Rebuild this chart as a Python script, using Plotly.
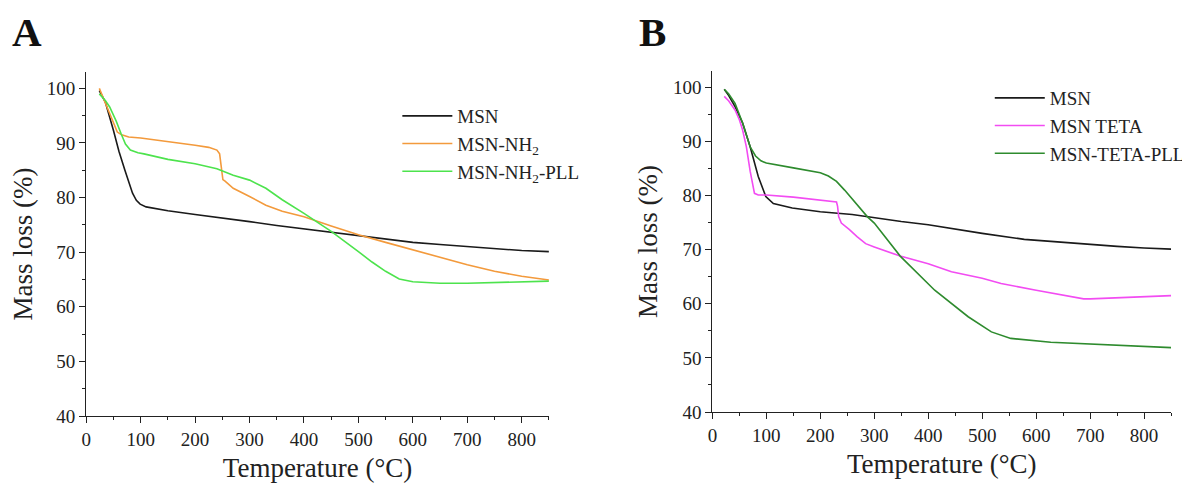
import plotly.graph_objects as go

# ---------------- Panel A data ----------------
t_msn_a = [24, 35, 50, 60, 71, 80, 85, 92, 99, 110, 130, 150, 200, 250, 300, 350, 400, 450, 500, 550, 600, 650, 700, 750, 800, 850]
m_msn_a = [99.6, 97.5, 92.3, 88.5, 85.0, 82.0, 80.8, 79.5, 78.8, 78.3, 77.9, 77.6, 76.9, 76.3, 75.6, 74.9, 74.3, 73.7, 73.1, 72.4, 71.8, 71.4, 71.0, 70.6, 70.3, 70.1]

t_nh2_a = [24, 30, 40, 50, 57, 65, 78, 100, 150, 200, 225, 240, 245, 248, 251, 255, 270, 300, 330, 360, 400, 450, 500, 550, 600, 650, 700, 750, 800, 850]
m_nh2_a = [100.0, 98.5, 96.0, 93.5, 92.0, 91.5, 91.1, 90.9, 90.3, 89.6, 89.2, 88.7, 88.0, 85.0, 83.3, 83.0, 81.7, 80.2, 78.6, 77.5, 76.5, 74.8, 73.2, 71.8, 70.4, 69.0, 67.7, 66.5, 65.6, 64.9]

t_pll_a = [24, 35, 43, 55, 64, 72, 81, 95, 106, 150, 200, 240, 270, 300, 330, 360, 400, 450, 500, 525, 550, 575, 600, 650, 700, 750, 800, 850]
m_pll_a = [99.0, 97.8, 96.6, 94.0, 91.7, 89.8, 88.7, 88.2, 88.0, 87.0, 86.2, 85.3, 84.1, 83.2, 81.7, 79.6, 77.1, 73.8, 70.1, 68.2, 66.5, 65.1, 64.6, 64.3, 64.3, 64.4, 64.5, 64.7]

# ---------------- Panel B data ----------------
t_msn_b = [22, 30, 42, 56, 70, 85, 99, 113, 148, 200, 259, 300, 350, 400, 443, 500, 578, 650, 700, 750, 800, 850]
m_msn_b = [99.6, 98.5, 96.4, 93.4, 89.0, 83.5, 79.8, 78.5, 77.7, 77.0, 76.5, 75.9, 75.2, 74.6, 73.9, 73.0, 71.9, 71.3, 71.0, 70.6, 70.3, 70.1]

t_teta_b = [22, 30, 42, 50, 56, 63, 70, 75, 78, 85, 100, 150, 200, 230, 232, 234, 239, 254, 268, 284, 300, 348, 400, 443, 500, 535, 600, 650, 688, 700, 750, 800, 850]
m_teta_b = [98.3, 97.5, 95.8, 94.0, 92.1, 89.0, 84.5, 81.5, 80.4, 80.1, 80.1, 79.7, 79.2, 78.8, 78.0, 76.1, 74.9, 73.7, 72.4, 71.1, 70.5, 68.8, 67.4, 65.9, 64.7, 63.75, 62.5, 61.6, 60.9, 60.9, 61.1, 61.3, 61.5]

t_tpll_b = [22, 30, 42, 56, 70, 80, 90, 100, 150, 200, 215, 230, 245, 260, 287, 300, 348, 412, 474, 517, 553, 627, 700, 775, 850]
m_tpll_b = [99.6, 98.8, 97.0, 93.4, 89.0, 87.3, 86.4, 86.0, 85.1, 84.2, 83.6, 82.6, 81.0, 79.2, 76.1, 74.9, 68.8, 62.5, 57.6, 54.8, 53.6, 52.9, 52.55, 52.2, 51.9]

names_a = ["MSN", "MSN-NH<sub>2</sub>", "MSN-NH<sub>2</sub>-PLL"]
names_b = ["MSN", "MSN TETA", "MSN-TETA-PLL"]
colors_a = ["#1a1a1a", "#f39a3c", "#4de34d"]
colors_b = ["#1a1a1a", "#f24cf2", "#2e8b2e"]

x_ticks = [0, 100, 200, 300, 400, 500, 600, 700, 800]
y_ticks = [40, 50, 60, 70, 80, 90, 100]

FONT = "Liberation Serif, Times New Roman, serif"
OFF = 8  # page body margin
W, H = 1190 - OFF, 484 - OFF

fig = go.Figure()
for t, m, n, c in zip([t_msn_a, t_nh2_a, t_pll_a], [m_msn_a, m_nh2_a, m_pll_a], names_a, colors_a):
    fig.add_trace(go.Scatter(x=t, y=m, name=n, mode="lines", line=dict(color=c, width=1.6),
                             xaxis="x", yaxis="y", legend="legend"))
for t, m, n, c in zip([t_msn_b, t_teta_b, t_tpll_b], [m_msn_b, m_teta_b, m_tpll_b], names_b, colors_b):
    fig.add_trace(go.Scatter(x=t, y=m, name=n, mode="lines", line=dict(color=c, width=1.6),
                             xaxis="x2", yaxis="y2", legend="legend2"))

def px_x(p):
    return (p - OFF) / W

def px_y(p):
    return 1 - (p - OFF) / H

common_x = dict(range=[0, 850], tickvals=x_ticks, ticks="outside", ticklen=6, tickwidth=1.3,
                tickcolor="#222", showline=True, linecolor="#222", linewidth=1.3,
                showgrid=False, zeroline=False, automargin=False,
                minor=dict(dtick=50, ticks="outside", ticklen=3, tickcolor="#222", tickwidth=1.2, showgrid=False),
                tickfont=dict(family=FONT, size=19, color="#222"),
                title=dict(text="Temperature (°C)", font=dict(family=FONT, size=27, color="#222"), standoff=9))
common_y = dict(range=[40, 103], tickvals=y_ticks, ticks="outside", ticklen=6, tickwidth=1.3,
                tickcolor="#222", showline=True, linecolor="#222", linewidth=1.3,
                showgrid=False, zeroline=False, automargin=False,
                minor=dict(dtick=5, ticks="outside", ticklen=3, tickcolor="#222", tickwidth=1.2, showgrid=False),
                tickfont=dict(family=FONT, size=19, color="#222"),
                title=dict(text="Mass loss (%)", font=dict(family=FONT, size=27, color="#222"), standoff=7))

legend_common = dict(xanchor="left", yanchor="top", bgcolor="rgba(0,0,0,0)",
                     font=dict(family=FONT, size=19, color="#222"), tracegroupgap=0, itemwidth=50)

fig.update_layout(
    width=W, height=H,
    margin=dict(l=0, r=0, t=0, b=0),
    paper_bgcolor="white", plot_bgcolor="white",
    font=dict(family=FONT, color="#222"),
    xaxis=dict(domain=[px_x(87), px_x(554)], anchor="y", **common_x),
    yaxis=dict(domain=[px_y(416), px_y(72)], anchor="x", **common_y),
    xaxis2=dict(domain=[px_x(719), px_x(1182)], anchor="y2", **common_x),
    yaxis2=dict(domain=[px_y(412), px_y(71)], anchor="x2", **common_y),
    legend=dict(x=px_x(401), y=px_y(97), **legend_common),
    legend2=dict(x=px_x(999), y=px_y(79), **legend_common),
    showlegend=True,
    annotations=[
        dict(text="<b>A</b>", x=px_x(11), y=1, xref="paper", yref="paper",
             xanchor="left", yanchor="top", showarrow=False, borderpad=0,
             font=dict(family=FONT, size=41, color="#111")),
        dict(text="<b>B</b>", x=px_x(644), y=1, xref="paper", yref="paper",
             xanchor="left", yanchor="top", showarrow=False, borderpad=0,
             font=dict(family=FONT, size=41, color="#111")),
    ],
)

fig.write_html("out.html")
